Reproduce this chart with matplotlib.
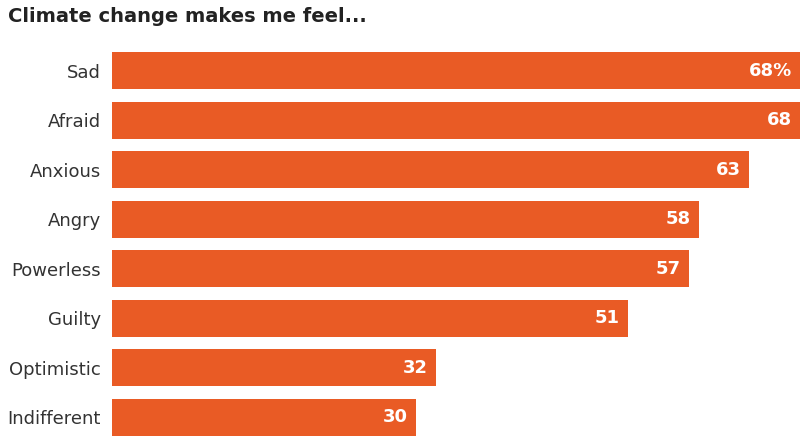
import matplotlib.pyplot as plt

categories = ["Sad", "Afraid", "Anxious", "Angry", "Powerless", "Guilty", "Optimistic", "Indifferent"]
values = [68, 68, 63, 58, 57, 51, 32, 30]
value_labels = ["68%", "68", "63", "58", "57", "51", "32", "30"]

bar_color = "#E95B25"

fig = plt.figure(figsize=(8, 4.36), dpi=100)
ax = fig.add_axes([0.14, 0.0, 0.86, 384 / 436])

y = range(len(categories))
ax.barh(y, values, height=0.75, color=bar_color)
ax.set_xlim(0, 68)
ax.set_ylim(len(categories) - 1 + 0.375, -0.375)

for i, (v, lab) in enumerate(zip(values, value_labels)):
    ax.text(v - 0.8, i, lab, ha="right", va="center", color="white",
            fontsize=13, fontweight="bold")

ax.set_yticks(list(y))
ax.set_yticklabels(categories, fontsize=13, color="#333333")
ax.tick_params(axis="y", length=0, pad=8)
ax.set_xticks([])
for s in ax.spines.values():
    s.set_visible(False)

fig.text(8 / 800, 1 - 17 / 436, "Climate change makes me feel...", ha="left", va="center",
         fontsize=14, fontweight="bold", color="#222222")

fig.savefig("out.png", dpi=100)
